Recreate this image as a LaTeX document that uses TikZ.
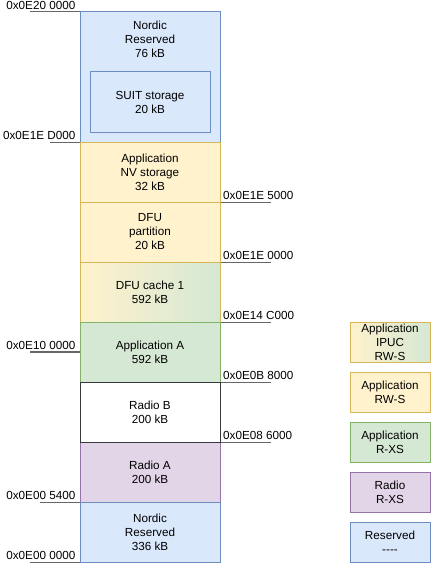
\documentclass[tikz,border=0pt]{standalone}
\usepackage{fontspec}
\setmainfont{Liberation Sans}
\usetikzlibrary{positioning}
\definecolor{bluefill}{HTML}{DAE8FC}
\definecolor{blueedge}{HTML}{6C8EBF}
\definecolor{yellowfill}{HTML}{FFF2CC}
\definecolor{yellowedge}{HTML}{D6B656}
\definecolor{greenfill}{HTML}{D5E8D4}
\definecolor{greenedge}{HTML}{82B366}
\definecolor{purplefill}{HTML}{E1D5E7}
\definecolor{purpleedge}{HTML}{9673A6}
\definecolor{darkedge}{HTML}{36393D}
\definecolor{tickgray}{HTML}{666666}

\begin{document}
\begin{tikzpicture}[x=1pt, y=-1pt,
  every node/.style={font=\fontsize{11.7}{14}\selectfont, align=center},
  region/.style={rectangle, line width=1pt, minimum width=140pt, minimum height=60pt, inner sep=0pt},
  legendbox/.style={rectangle, line width=1pt, minimum width=80pt, minimum height=40pt, inner sep=0pt},
  addr/.style={inner sep=0pt},
  tick/.style={draw=tickgray, line width=1.2pt}]
  \useasboundingbox (0,0) rectangle (431,567);

  % flash column, top to bottom
  \node[region, fill=bluefill, draw=blueedge, minimum height=130pt] (resvtop) at (150,77) {};
  \node (resvtoptxt) at (150,39) {Nordic\\Reserved\\76 kB};
  \node[region, fill=bluefill, draw=blueedge, minimum width=120pt] (suit) at (150,102) {SUIT storage\\20 kB};
  \node[region, fill=yellowfill, draw=yellowedge] (nvstor) at (150,172) {Application\\NV storage\\32 kB};
  \node[region, fill=yellowfill, draw=yellowedge] (dfupart) at (150,232) {DFU\\partition\\20 kB};
  \node[region, left color=yellowfill, right color=greenfill, draw=yellowedge] (dfucache) at (150,292) {DFU cache 1\\592 kB};
  \node[region, fill=greenfill, draw=greenedge] (appa) at (150,352) {Application A\\592 kB};
  \node[region, fill=purplefill, draw=purpleedge] (radioa) at (150,472) {Radio A\\200 kB};
  \node[region, fill=bluefill, draw=blueedge] (resvbot) at (150,532) {Nordic\\Reserved\\336 kB};
  \node[region, fill=white, draw=darkedge] (radiob) at (150,412) {Radio B\\200 kB};

  % address marks
  \draw[tick] (resvtop.north west) -- ++(-50,0);
  \draw[tick] (resvtop.south west) -- ++(-30,0);
  \draw[tick] (appa.west) -- ++(-50,0);
  \draw[tick] (radioa.south west) -- ++(-40,0);
  \draw[tick] (resvbot.south west) -- ++(-50,0);
  \draw[tick] (nvstor.south east) -- ++(50,0);
  \draw[tick] (dfupart.south east) -- ++(50,0);
  \draw[tick] (dfucache.south east) -- ++(50,0);
  \draw[tick] (appa.south east) -- ++(50,0);
  \draw[tick] (radiob.south east) -- ++(50,0);

  \node[addr, anchor=base east] (a200) at (75.5,9.5) {0x0E20 0000};
  \node[addr, anchor=base east] (a1ed) at (75.5,139.5) {0x0E1E D000};
  \node[addr, anchor=base east] (a100) at (75.5,349.5) {0x0E10 0000};
  \node[addr, anchor=base east] (a054) at (75.5,499.5) {0x0E00 5400};
  \node[addr, anchor=base east] (a000) at (75.5,559.5) {0x0E00 0000};
  \node[addr, anchor=base west] (a1e5) at (223,199.5) {0x0E1E 5000};
  \node[addr, anchor=base west] (a1e0) at (223,259.5) {0x0E1E 0000};
  \node[addr, anchor=base west] (a14c) at (223,319.5) {0x0E14 C000};
  \node[addr, anchor=base west] (a0b8) at (223,379.5) {0x0E0B 8000};
  \node[addr, anchor=base west] (a086) at (223,439.5) {0x0E08 6000};

  % legend
  \node[legendbox, left color=yellowfill, right color=greenfill, draw=yellowedge] (lgipuc) at (390,342) {Application\\IPUC\\RW-S};
  \node[legendbox, fill=yellowfill, draw=yellowedge] (lgrws) at (390,392) {Application\\RW-S};
  \node[legendbox, fill=greenfill, draw=greenedge] (lgrxs) at (390,442) {Application\\R-XS};
  \node[legendbox, fill=purplefill, draw=purpleedge] (lgradio) at (390,492) {Radio\\R-XS};
  \node[legendbox, fill=bluefill, draw=blueedge] (lgresv) at (390,542) {Reserved\\{-}{-}{-}{-}};
\end{tikzpicture}
\end{document}
